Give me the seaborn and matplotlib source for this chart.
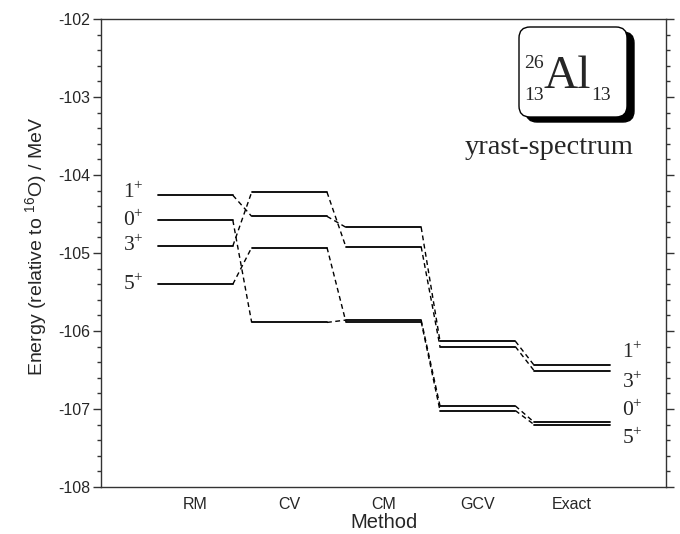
import matplotlib
matplotlib.use("Agg")
import matplotlib.pyplot as plt
import seaborn as sns
import pandas as pd
from matplotlib.patches import FancyBboxPatch
from matplotlib.ticker import MultipleLocator

# ---------------- data ----------------
methods = ["RM", "CV", "CM", "GCV", "Exact"]
states = ["1+", "0+", "3+", "5+"]
energy_1plus = [-104.26, -104.53, -104.67, -106.13, -106.44]
energy_0plus = [-104.58, -105.89, -105.86, -106.96, -107.17]
energy_3plus = [-104.91, -104.22, -104.92, -106.20, -106.51]
energy_5plus = [-105.40, -104.93, -105.88, -107.02, -107.20]
left_labels = ["1", "0", "3", "5"]
left_label_energy = [-104.22, -104.58, -104.90, -105.40]
right_labels = ["1", "3", "0", "5"]
right_label_energy = [-106.27, -106.66, -107.01, -107.37]
y_ticks = [-108, -107, -106, -105, -104, -103, -102]

# ---------------- style ----------------
sns.set_theme(style="white")
plt.rcParams['font.family'] = ['Liberation Sans', 'DejaVu Sans']
plt.rcParams['mathtext.fontset'] = 'custom'
plt.rcParams['mathtext.rm'] = 'Liberation Serif'
plt.rcParams['mathtext.sf'] = 'Liberation Sans'
plt.rcParams['axes.unicode_minus'] = False

W, H = 680, 534
fig = plt.figure(figsize=(W / 100, H / 100), dpi=100)
ax = fig.add_axes([101 / W, 1 - 487 / H, 565 / W, 468 / H])

series = dict(zip(states, [energy_1plus, energy_0plus, energy_3plus, energy_5plus]))
half = 0.4
level_rows, conn_rows = [], []
for s, vals in series.items():
    for i, e in enumerate(vals):
        seg = f"{s}-{methods[i]}"
        level_rows.append(dict(seg=seg, x=i - half, E=e))
        level_rows.append(dict(seg=seg, x=i + half, E=e))
        if i < len(vals) - 1:
            cseg = f"{s}-c{i}"
            conn_rows.append(dict(seg=cseg, x=i + half, E=e))
            conn_rows.append(dict(seg=cseg, x=i + 1 - half, E=vals[i + 1]))
levels = pd.DataFrame(level_rows)
conns = pd.DataFrame(conn_rows)

sns.lineplot(data=levels, x="x", y="E", units="seg", estimator=None, sort=False,
             color="black", linewidth=1.3, ax=ax)
sns.lineplot(data=conns, x="x", y="E", units="seg", estimator=None, sort=False,
             color="black", linewidth=1.0, linestyle=(0, (3.5, 2.5)), ax=ax)

# ---------------- axes ----------------
ax.set_xlim(-1, 5)
ax.set_ylim(-108, -102)
ax.set_xticks(range(len(methods)))
ax.set_xticklabels(methods, fontsize=11.5)
ax.set_yticks(y_ticks)
ax.set_yticklabels([str(t) for t in y_ticks], fontsize=11.5)
ax.yaxis.set_minor_locator(MultipleLocator(0.2))
ax.tick_params(axis="x", length=0, pad=7)
ax.tick_params(axis="y", which="major", direction="out", length=6, width=1,
               color="#333333", left=True, right=True, labelright=False, pad=2)
ax.tick_params(axis="y", which="minor", direction="out", length=3, width=1,
               color="#333333", left=True, right=True)
for sp in ax.spines.values():
    sp.set_color("#333333")
    sp.set_linewidth(1.0)
ax.set_xlabel("Method", fontsize=14.5)
ax.xaxis.set_label_coords(0.5, -0.055)
ax.set_ylabel(r"Energy (relative to $^{\mathsf{16}}$O) / MeV", fontsize=14)
ax.yaxis.set_label_coords(-0.09, 0.515)

# ---------------- state labels ----------------
for lab, e in zip(left_labels, left_label_energy):
    ax.text(-0.55, e, rf"$\mathrm{{{lab}}}^{{+}}$", fontsize=15.5,
            ha="right", va="center")
for lab, e in zip(right_labels, right_label_energy):
    ax.text(4.53, e, rf"$\mathrm{{{lab}}}^{{+}}$", fontsize=15.5,
            ha="left", va="center")

serif = ["Liberation Serif", "DejaVu Serif"]
ax.text((634 - 101) / 565, 1 - (147 - 19) / 468, "yrast-spectrum",
        transform=ax.transAxes, fontsize=20.5, family=serif, ha="right", va="center")

# ---------------- nucleus box ----------------
def px(x, y):
    return x / 100, (H - y) / 100

tr = fig.dpi_scale_trans
bx0, by0, bx1, by1 = 519, 27, 627, 117
shadow = FancyBboxPatch(px(bx0 + 7, by1 + 5), (bx1 - bx0) / 100, (by1 - by0) / 100,
                        boxstyle="round,pad=0,rounding_size=0.11",
                        transform=tr, facecolor="black", edgecolor="black", zorder=5)
box = FancyBboxPatch(px(bx0, by1), (bx1 - bx0) / 100, (by1 - by0) / 100,
                     boxstyle="round,pad=0,rounding_size=0.11",
                     transform=tr, facecolor="white", edgecolor="black",
                     linewidth=1.0, zorder=6)
fig.add_artist(shadow)
fig.add_artist(box)
fig.text(*px(543, 88), "Al", transform=tr, fontsize=34, family=serif,
         ha="left", va="baseline", zorder=7)
fig.text(*px(544, 64), "26", transform=tr, fontsize=14, family=serif,
         ha="right", va="center", zorder=7)
fig.text(*px(544, 95), "13", transform=tr, fontsize=14, family=serif,
         ha="right", va="center", zorder=7)
fig.text(*px(591, 95), "13", transform=tr, fontsize=14, family=serif,
         ha="left", va="center", zorder=7)

fig.savefig("out.png", dpi=100)
